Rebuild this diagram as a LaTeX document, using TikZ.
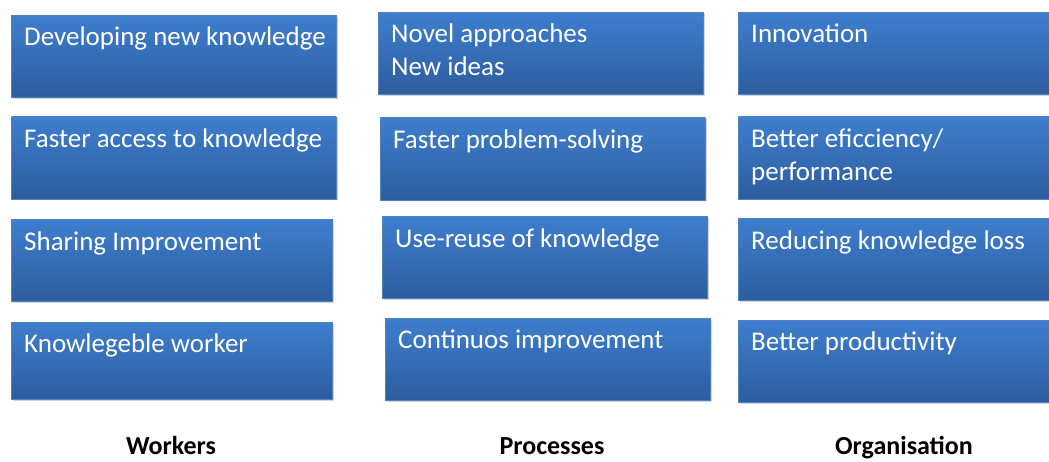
\documentclass[tikz,border=0pt]{standalone}
\usepackage{fontspec}
\setmainfont{Carlito}
\usetikzlibrary{positioning, shadows}
\definecolor{boxtop}{RGB}{62,126,206}
\definecolor{boxbottom}{RGB}{45,93,158}
\definecolor{boxline}{RGB}{80,130,195}
\tikzset{
box/.style={rectangle, minimum width=325pt, minimum height=82pt, inner sep=0pt, draw=boxline, line width=0.6pt, top color=boxtop, bottom color=boxbottom, drop shadow={shadow xshift=1.5pt, shadow yshift=-1.5pt, opacity=.35}}, % the blue boxes
txt/.style={anchor=north west, inner sep=0pt, xshift=13pt, yshift=-12pt, text=white, align=left, font=\fontsize{27pt}{33pt}\selectfont}, % the text in the top left corner of a box
heading/.style={anchor=base, inner sep=0pt, font=\fontsize{26pt}{30pt}\selectfont\bfseries}, % the column titles
}
\begin{document}
\begin{tikzpicture}
            \useasboundingbox (0,0) rectangle (1049pt,-462pt);
            % workers
            \node[box, anchor=north west, label={[txt]north west:Developing new knowledge}] (w1) at (11pt,-15pt) {};
            \node[box, below=19pt of w1, label={[txt]north west:Faster access to knowledge}] (w2) {};
            \node[box, below=20pt of w2, minimum width=321pt, xshift=-2pt, label={[txt]north west:Sharing Improvement}] (w3) {};
            \node[box, below=20pt of w3, minimum width=321pt, minimum height=77pt, label={[txt]north west:Knowlegeble worker}] (w4) {};
            % processes
            \node[box, anchor=north west, label={[txt]north west:Novel approaches\\New ideas}] (p1) at (378pt,-12pt) {};
            \node[box, below=23pt of p1, xshift=2pt, label={[txt]north west:Faster problem-solving}] (p2) {};
            \node[box, below=16pt of p2, xshift=2pt, label={[txt]north west:Use-reuse of knowledge}] (p3) {};
            \node[box, below=19pt of p3, xshift=3pt, label={[txt]north west:Continuos improvement}] (p4) {};
            % organisation
            \node[box, anchor=north west, label={[txt]north west:Innovation}] (o1) at (738pt,-12pt) {};
            \node[box, below=22pt of o1, label={[txt]north west:Better eficciency/\\performance}] (o2) {};
            \node[box, below=19pt of o2, label={[txt]north west:Reducing knowledge loss}] (o3) {};
            \node[box, below=19pt of o3, label={[txt]north west:Better productivity}] (o4) {};
            % column titles
            \node[heading] (wt) at (171pt,-454pt) {Workers};
            \node[heading] (pt) at (552pt,-454pt) {Processes};
            \node[heading] (ot) at (904pt,-454pt) {Organisation};
            \end{tikzpicture}
\end{document}
